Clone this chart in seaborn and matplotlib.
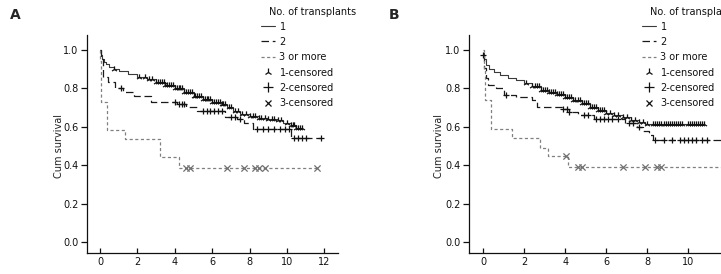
import numpy as np
import pandas as pd
import matplotlib
matplotlib.use("Agg")
import matplotlib.pyplot as plt
from matplotlib.lines import Line2D
import seaborn as sns

sns.set_style("ticks")
plt.rcParams['font.family'] = ['DejaVu Sans']
plt.rcParams['font.size'] = 7

# ---------------- data ----------------
x_ticks = [0, 2, 4, 6, 8, 10, 12]
y_ticks = [0.0, 0.2, 0.4, 0.6, 0.8, 1.0]
y_tick_labels = ["0.0", "0.2", "0.4", "0.6", "0.8", "1.0"]
legend_title = "No. of transplants"
legend_labels = ["1", "2", "3 or more", "1-censored", "2-censored", "3-censored"]
y_label = "Cum survival"
panel_labels = ["A", "B"]

# Panel A
a1_t = [0, 0.05, 0.1, 0.2, 0.3, 0.5, 0.75, 1.0, 1.5, 2.0, 2.5, 3.0, 3.5, 4.0, 4.5,
        5.0, 5.5, 6.0, 6.5, 6.8, 7.1, 7.5, 8.0, 8.5, 9.0, 9.5, 9.8, 10.2, 10.5]
a1_s = [1.0, 0.97, 0.95, 0.935, 0.925, 0.91, 0.90, 0.89, 0.875, 0.86, 0.845, 0.83,
        0.815, 0.80, 0.78, 0.76, 0.745, 0.73, 0.715, 0.70, 0.68, 0.665, 0.655, 0.645,
        0.64, 0.635, 0.62, 0.61, 0.595]
a1_end = 10.8
a1_c = [0.75, 2.1, 2.4, 2.6, 2.8, 3.0, 3.1, 3.2, 3.3, 3.4, 3.5, 3.6, 3.7, 3.8, 3.9,
        4.0, 4.1, 4.2, 4.3, 4.4, 4.5, 4.6, 4.7, 4.8, 4.9, 5.0, 5.1, 5.2, 5.3, 5.4,
        5.5, 5.6, 5.7, 5.8, 5.9, 6.0, 6.1, 6.2, 6.3, 6.4, 6.5, 6.6, 6.7, 6.9, 7.0,
        7.2, 7.4, 7.6, 7.8, 8.0, 8.2, 8.3, 8.5, 8.6, 8.8, 9.0, 9.2, 9.3, 9.5, 9.7,
        10.0, 10.2, 10.3, 10.4, 10.5, 10.6, 10.7, 10.8]

a2_t = [0, 0.03, 0.15, 0.4, 0.8, 1.2, 1.8, 2.7, 4.1, 4.6, 5.2, 6.7, 7.3, 7.7, 8.2, 10.2]
a2_s = [1.0, 0.95, 0.86, 0.83, 0.80, 0.78, 0.76, 0.73, 0.715, 0.70, 0.68, 0.65, 0.64,
        0.62, 0.59, 0.54]
a2_end = 11.8
a2_c = [1.1, 4.0, 4.2, 4.4, 4.5, 5.5, 5.7, 5.9, 6.1, 6.3, 6.5, 7.0, 7.2, 7.5, 8.4,
        8.7, 9.0, 9.3, 9.6, 9.9, 10.1, 10.4, 10.6, 10.8, 11.0, 11.8]

a3_t = [0, 0.02, 0.06, 0.37, 1.35, 3.2, 4.2]
a3_s = [1.0, 0.94, 0.73, 0.58, 0.535, 0.44, 0.385]
a3_end = 11.6
a3_c = [4.6, 4.8, 6.8, 7.7, 8.3, 8.5, 8.8, 11.6]

# Panel B
b1_t = [0, 0.05, 0.15, 0.3, 0.5, 0.8, 1.2, 1.6, 2.0, 2.4, 2.8, 3.2, 3.6, 4.0, 4.4,
        4.8, 5.2, 5.6, 6.0, 6.4, 6.8, 7.2, 7.6, 7.9]
b1_s = [0.98, 0.95, 0.92, 0.90, 0.885, 0.87, 0.855, 0.84, 0.825, 0.81, 0.79, 0.78,
        0.77, 0.755, 0.74, 0.72, 0.70, 0.685, 0.67, 0.66, 0.65, 0.635, 0.625, 0.615]
b1_end = 10.8
b1_c = [2.1, 2.4, 2.5, 2.6, 2.7, 2.8, 2.9, 3.0, 3.1, 3.2, 3.3, 3.4, 3.5, 3.6, 3.7,
        3.8, 3.9, 4.0, 4.1, 4.2, 4.3, 4.4, 4.5, 4.6, 4.7, 4.8, 4.9, 5.0, 5.1, 5.2,
        5.3, 5.4, 5.5, 5.6, 5.7, 5.8, 5.9, 6.0, 6.2, 6.4, 6.6, 6.8, 7.0, 7.2, 7.4,
        7.6, 7.8, 8.0, 8.3, 8.4, 8.5, 8.6, 8.7, 8.8, 8.9, 9.0, 9.1, 9.2, 9.3, 9.4,
        9.5, 9.6, 9.7, 10.0, 10.1, 10.2, 10.3, 10.4, 10.5, 10.6, 10.7, 10.8]

b2_t = [0, 0.05, 0.12, 0.25, 0.6, 1.0, 1.6, 2.4, 2.6, 3.9, 4.2, 4.6, 5.4, 6.9, 7.5,
        7.8, 8.1, 8.3]
b2_s = [0.97, 0.905, 0.85, 0.815, 0.80, 0.765, 0.755, 0.74, 0.70, 0.69, 0.675, 0.66,
        0.64, 0.62, 0.60, 0.575, 0.555, 0.53]
b2_end = 12.5
b2_c = [0.0, 1.1, 3.9, 4.1, 4.2, 4.9, 5.1, 5.5, 5.7, 5.9, 6.1, 6.3, 6.6, 7.1, 7.3,
        7.6, 8.4, 8.8, 9.2, 9.6, 9.8, 10.0, 10.2, 10.4, 10.7, 10.9]

b3_t = [0, 0.03, 0.1, 0.35, 1.4, 2.75, 3.15, 4.15]
b3_s = [1.0, 0.90, 0.74, 0.59, 0.54, 0.49, 0.445, 0.39]
b3_end = 12.5
b3_c = [4.05, 4.6, 4.8, 6.8, 7.9, 8.5, 8.7]

# ---------------- styling ----------------
styles = [
    dict(color="#3a3a3a", linestyle="-", lw=0.8),
    dict(color="#1a1a1a", linestyle=(0, (6, 3)), lw=0.9),
    dict(color="#808080", linestyle=(0, (2.5, 2)), lw=0.9),
]
cens_markers = ["2", "+", "x"]
cens_colors = ["#111111", "#111111", "#707070"]

W, H = 721, 274
fig = plt.figure(figsize=(W / 100, H / 100), dpi=100)

def step_df(t, s, end):
    return pd.DataFrame({"t": list(t) + [end], "s": list(s) + [s[-1]]})

def cens_df(t, s, c):
    t = np.asarray(t); s = np.asarray(s)
    idx = np.searchsorted(t, c, side="right") - 1
    return pd.DataFrame({"t": c, "s": s[idx]})

def panel(ax, series, show_ticks):
    for i, (t, s, end, c) in enumerate(series):
        d = step_df(t, s, end)
        sns.lineplot(data=d, x="t", y="s", ax=ax, drawstyle="steps-post",
                     estimator=None, sort=False, legend=False, **styles[i])
        cd = cens_df(t, s, c)
        sns.scatterplot(data=cd, x="t", y="s", ax=ax, marker=cens_markers[i],
                        color=cens_colors[i], s=20, linewidth=0.9, legend=False,
                        zorder=3)
    ax.set_xlim(-0.7, 12.73)
    ax.set_ylim(-0.057, 1.076)
    ax.set_xticks(show_ticks)
    ax.set_yticks(y_ticks)
    ax.set_yticklabels(y_tick_labels)
    ax.set_xlabel("")
    ax.set_ylabel(y_label, fontsize=7, color="#222222")
    ax.yaxis.set_label_coords(-0.092, 0.49)
    for sp in ["top", "right"]:
        ax.spines[sp].set_visible(False)
    for sp in ["left", "bottom"]:
        ax.spines[sp].set_linewidth(0.9)
        ax.spines[sp].set_color("#111111")
    ax.tick_params(axis="y", direction="out", length=4.5, width=0.9, pad=1.5,
                   labelsize=7, colors="#111111")
    ax.tick_params(axis="x", direction="in", length=3.5, width=0.9, pad=3,
                   labelsize=7, colors="#111111")
    ax.set_facecolor("white")

axA = fig.add_axes([87 / W, 21 / H, 251 / W, 218 / H])
panel(axA, [(a1_t, a1_s, a1_end, a1_c), (a2_t, a2_s, a2_end, a2_c),
            (a3_t, a3_s, a3_end, a3_c)], x_ticks)

# panel B runs past the right edge of the figure (cropped like the reference);
# its last tick (12) lies outside the picture
axB = fig.add_axes([469 / W, 21 / H, 275 / W, 218 / H])
panel(axB, [(b1_t, b1_s, b1_end, b1_c), (b2_t, b2_s, b2_end, b2_c),
            (b3_t, b3_s, b3_end, b3_c)], x_ticks[:-1])

# legends
handles = [
    Line2D([], [], **styles[0]),
    Line2D([], [], **styles[1]),
    Line2D([], [], **styles[2]),
    Line2D([], [], color="#111111", marker="2", linestyle="", markersize=6, mew=0.9),
    Line2D([], [], color="#111111", marker="+", linestyle="", markersize=7, mew=0.9),
    Line2D([], [], color="#111111", marker="x", linestyle="", markersize=5, mew=0.9),
]
for hx, tx in [(261, 269), (642, 650)]:
    fig.text(tx / W, 1 - 12 / H, legend_title, fontsize=7, va="center", ha="left",
             color="#111111")
    fig.legend(handles, legend_labels, loc="upper left",
               bbox_to_anchor=(hx / W, 1 - 21.5 / H), frameon=False, fontsize=7,
               borderpad=0, borderaxespad=0, handlelength=1.4, handletextpad=0.5,
               labelspacing=0.55, labelcolor="#111111")

fig.text(10 / W, 1 - 15 / H, panel_labels[0], fontsize=10, fontweight="bold",
         va="center", ha="left")
fig.text(389 / W, 1 - 15 / H, panel_labels[1], fontsize=10, fontweight="bold",
         va="center", ha="left")

fig.savefig("out.png", dpi=100)
